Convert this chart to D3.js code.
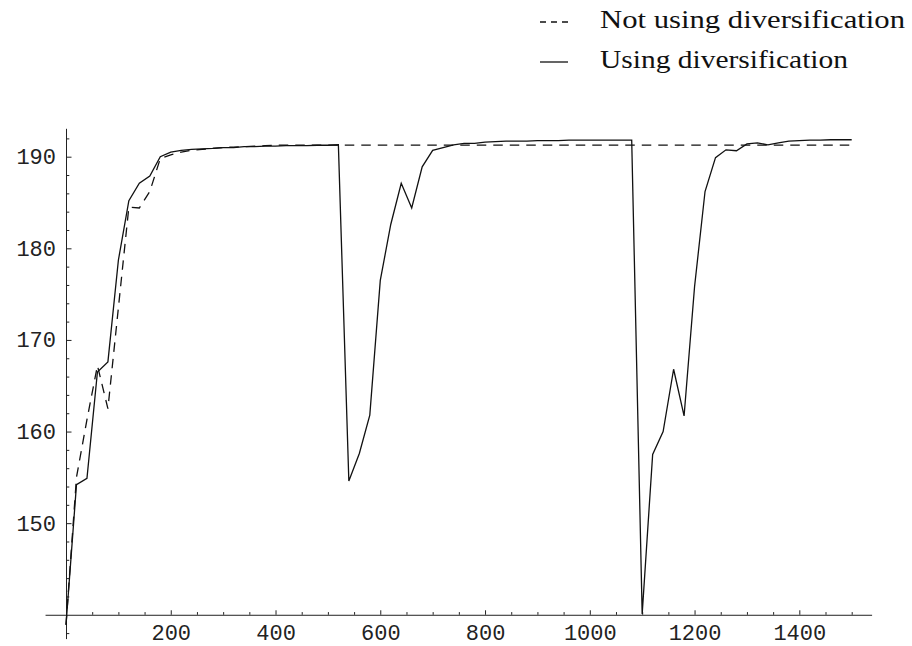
<!DOCTYPE html>
<html>
<head>
<meta charset="utf-8">
<script src="https://cdn.jsdelivr.net/npm/d3@7"></script>
<style>
  html, body { margin: 0; padding: 0; background: #fff; }
  svg { display: block; }
</style>
</head>
<body>
<svg id="chart" width="912" height="646"></svg>
<script>
// Iteration number (every 20 steps) and the two performance series
const steps = d3.range(0, 1501, 20);

const withoutDiversification = [
  138.9, 155.0, 161.3, 167.2, 162.5, 173.5, 184.5, 184.4, 186.2, 189.8,
  190.2, 190.5, 190.7, 190.8, 190.9, 191.0, 191.05, 191.1, 191.15, 191.2,
  191.25, 191.27, 191.27, 191.27, 191.27, 191.27, 191.27, 191.27, 191.27, 191.27,
  191.27, 191.27, 191.27, 191.27, 191.27, 191.27, 191.27, 191.27, 191.27, 191.27,
  191.27, 191.27, 191.27, 191.27, 191.27, 191.27, 191.27, 191.27, 191.27, 191.27,
  191.27, 191.27, 191.27, 191.27, 191.27, 191.27, 191.27, 191.27, 191.27, 191.27,
  191.27, 191.27, 191.27, 191.27, 191.27, 191.27, 191.27, 191.27, 191.27, 191.27,
  191.27, 191.27, 191.27, 191.27, 191.27, 191.27
];

const withDiversification = [
  138.9, 154.2, 154.9, 166.5, 167.6, 178.7, 185.2, 187.1, 187.9, 190.0,
  190.5, 190.7, 190.8, 190.85, 190.9, 191.0, 191.0, 191.1, 191.1, 191.15,
  191.15, 191.2, 191.2, 191.2, 191.25, 191.25, 191.3, 154.6, 157.6, 161.8,
  176.5, 182.6, 187.1, 184.4, 188.9, 190.7, 191.0, 191.3, 191.45, 191.45,
  191.6, 191.65, 191.7, 191.7, 191.7, 191.75, 191.75, 191.75, 191.8, 191.8,
  191.8, 191.8, 191.8, 191.8, 191.8, 140.1, 157.5, 160.0, 166.8, 161.7,
  175.8, 186.2, 189.9, 190.75, 190.65, 191.4, 191.5, 191.3, 191.5, 191.7,
  191.75, 191.8, 191.8, 191.85, 191.85, 191.85
];

// Axis ticks
const xMajorTicks = [200, 400, 600, 800, 1000, 1200, 1400];
const xMinorTicks = d3.range(50, 1501, 50).filter(v => v % 200 !== 0);
const yMajorTicks = [150, 160, 170, 180, 190];
const yMinorTicks = d3.range(138, 193, 2).filter(v => v % 10 !== 0);

const legendLabels = ["Not using diversification", "Using diversification"];

const svg = d3.select("#chart");

const x = d3.scaleLinear().domain([-40, 1538]).range([45.05, 871.6]);
const y = d3.scaleLinear().domain([137.4, 193.1]).range([638.6, 128.3]);

const axisColor = "#222";
const tickFont = "'Liberation Mono', 'Courier New', monospace";

// Horizontal axis, crossing at 140
const xAxisG = svg.append("g").attr("transform", `translate(0,${y(140)})`);
xAxisG.append("g")
  .call(d3.axisBottom(x).tickValues(xMinorTicks).tickFormat("").tickSize(-2.7).tickSizeOuter(0))
  .call(g => g.select(".domain").remove());
xAxisG.append("g")
  .call(d3.axisBottom(x).tickValues(xMajorTicks).tickFormat(d3.format("d"))
    .tickSize(-4.5).tickSizeOuter(0).tickPadding(10));

// Vertical axis at 0
const yAxisG = svg.append("g").attr("transform", `translate(${x(0)},0)`);
yAxisG.append("g")
  .call(d3.axisLeft(y).tickValues(yMinorTicks).tickFormat("").tickSize(-3.3).tickSizeOuter(0))
  .call(g => g.select(".domain").remove());
yAxisG.append("g")
  .call(d3.axisLeft(y).tickValues(yMajorTicks).tickFormat(d3.format("d"))
    .tickSize(-5.5).tickSizeOuter(0).tickPadding(10));

svg.selectAll(".tick line, .domain").attr("stroke", axisColor).attr("stroke-width", 1);
svg.selectAll(".tick text")
  .attr("fill", "#222")
  .style("font-family", tickFont)
  .style("font-size", "22px");

// Series lines
const line = d3.line()
  .x((d, i) => x(steps[i]))
  .y(d => y(d));

svg.append("path")
  .datum(withoutDiversification)
  .attr("d", line)
  .attr("fill", "none")
  .attr("stroke", "#111")
  .attr("stroke-width", 1.3)
  .attr("stroke-dasharray", "9.5,7");

svg.append("path")
  .datum(withDiversification)
  .attr("d", line)
  .attr("fill", "none")
  .attr("stroke", "#111")
  .attr("stroke-width", 1.3);

// Legend
const legend = svg.append("g");
const legendRows = [
  { label: legendLabels[0], dash: "6,5", base: 28, width: 305 },
  { label: legendLabels[1], dash: null, base: 68, width: 248 }
];
legendRows.forEach(r => {
  legend.append("line")
    .attr("x1", 540).attr("x2", 568)
    .attr("y1", r.base - 6).attr("y2", r.base - 6)
    .attr("stroke", "#111").attr("stroke-width", 1.3)
    .attr("stroke-dasharray", r.dash);
  legend.append("text")
    .attr("x", 600).attr("y", r.base)
    .attr("textLength", r.width)
    .attr("lengthAdjust", "spacingAndGlyphs")
    .attr("fill", "#111")
    .style("font-family", "'Liberation Serif', 'Times New Roman', serif")
    .style("font-size", "25px")
    .text(r.label);
});
</script>
</body>
</html>
